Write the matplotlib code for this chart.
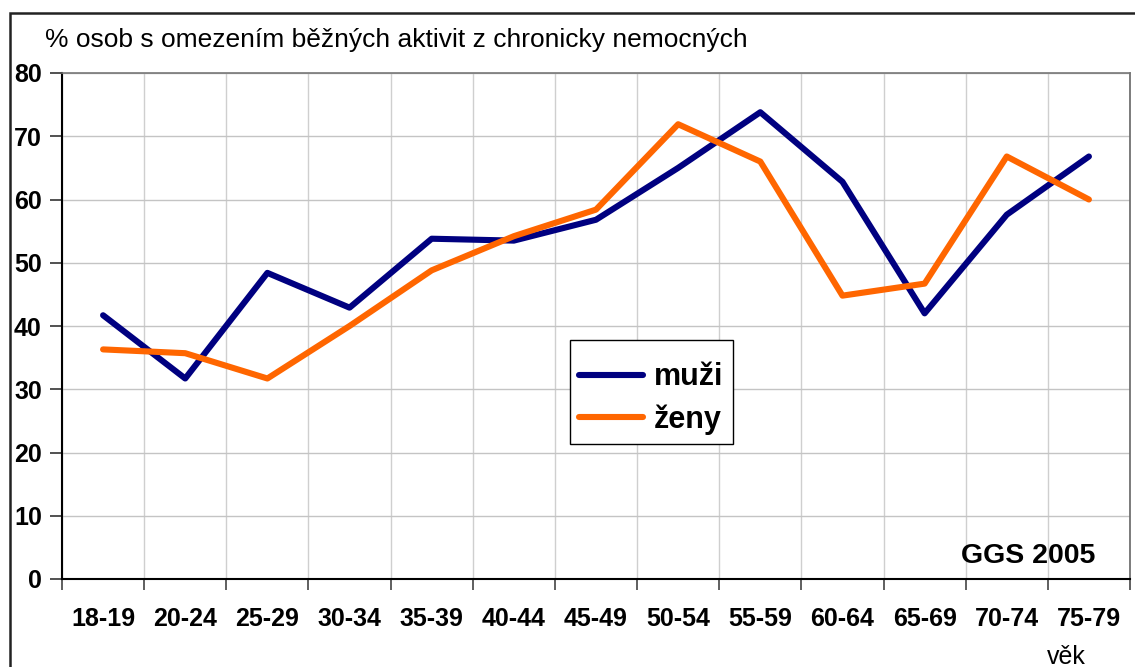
import numpy as np
import matplotlib
matplotlib.use("Agg")
import matplotlib.pyplot as plt
from matplotlib.patches import Rectangle

# Data
age_groups = ["18-19", "20-24", "25-29", "30-34", "35-39", "40-44", "45-49",
              "50-54", "55-59", "60-64", "65-69", "70-74", "75-79"]
muzi = [41.7, 31.7, 48.4, 42.9, 53.8, 53.5, 56.8, 65.0, 73.8, 62.8, 42.0, 57.6, 66.8]
zeny = [36.3, 35.7, 31.7, 40.0, 48.8, 54.2, 58.4, 71.9, 66.0, 44.8, 46.7, 66.8, 60.0]
y_ticks = [0, 10, 20, 30, 40, 50, 60, 70, 80]

plt.rcParams['font.family'] = ['Liberation Sans', 'DejaVu Sans']

W, H = 1135, 667
fig = plt.figure(figsize=(W / 100, H / 100), dpi=100)
fig.patch.set_facecolor('white')

# plot area in pixel coords
left, right, top, bottom = 62, 1130, 73, 579
ax = fig.add_axes([left / W, 1 - bottom / H, (right - left) / W, (bottom - top) / H])

x = np.arange(len(age_groups))
ax.plot(x, muzi, color='#000080', lw=4.4, label='muži', solid_capstyle='round', zorder=3)
ax.plot(x, zeny, color='#FF6600', lw=4.4, label='ženy', solid_capstyle='round', zorder=3)

ax.set_xlim(-0.5, len(age_groups) - 0.5)
ax.set_ylim(0, 80)

# category labels at centers, ticks + grid at boundaries
ax.set_xticks(x)
ax.set_xticklabels(age_groups, fontsize=18, fontweight='bold')
ax.tick_params(axis='x', which='major', length=0, pad=20)
ax.set_xticks(np.arange(-0.5, len(age_groups)), minor=True)
ax.tick_params(axis='x', which='minor', length=8, width=1.2, color='#444444', direction='out')
ax.grid(True, axis='x', which='minor', color='#cfcfcf', lw=1)

ax.set_yticks(y_ticks)
ax.set_yticklabels([str(v) for v in y_ticks], fontsize=18, fontweight='bold')
ax.tick_params(axis='y', length=9, width=1.2, color='#333333', direction='out', pad=5.5)
ax.grid(True, axis='y', which='major', color='#c4c4c4', lw=1)
ax.set_axisbelow(True)

for side in ['left', 'bottom']:
    ax.spines[side].set_color('black')
    ax.spines[side].set_linewidth(1.5)
ax.spines['top'].set_color('#777777')
ax.spines['top'].set_linewidth(1.2)
ax.spines['right'].set_color('#666666')
ax.spines['right'].set_linewidth(1.2)

# tiny blank title pushes the entries down inside the box like the original
leg = ax.legend(loc='upper left', bbox_to_anchor=(570 / W, 1 - 340 / H),
                bbox_transform=fig.transFigure, borderaxespad=0,
                fancybox=False, edgecolor='black', framealpha=1, shadow=False,
                prop={'size': 22, 'weight': 'bold'}, handlelength=2.1,
                handletextpad=0.35, labelspacing=0.4, borderpad=0.3,
                title=' ', title_fontsize=1)
leg.get_frame().set_linewidth(1.0)

fig.text(45 / W, 1 - 40 / H, "% osob s omezením běžných aktivit z chronicky nemocných",
         fontsize=19, ha='left', va='center')
fig.text(1095 / W, 1 - 556 / H, "GGS 2005", fontsize=20.5, fontweight='bold',
         ha='right', va='center')
fig.text(1066 / W, 1 - 657 / H, "věk", fontsize=18, ha='center', va='center')

# outer chart frame (cut by the image edge on right and bottom)
fig.patches.append(Rectangle((10 / W, -0.1), 1.2, 1 - 13 / H + 0.1,
                             transform=fig.transFigure, fill=False,
                             lw=1.8, ec='#222222'))

fig.savefig('out.png', dpi=100)
